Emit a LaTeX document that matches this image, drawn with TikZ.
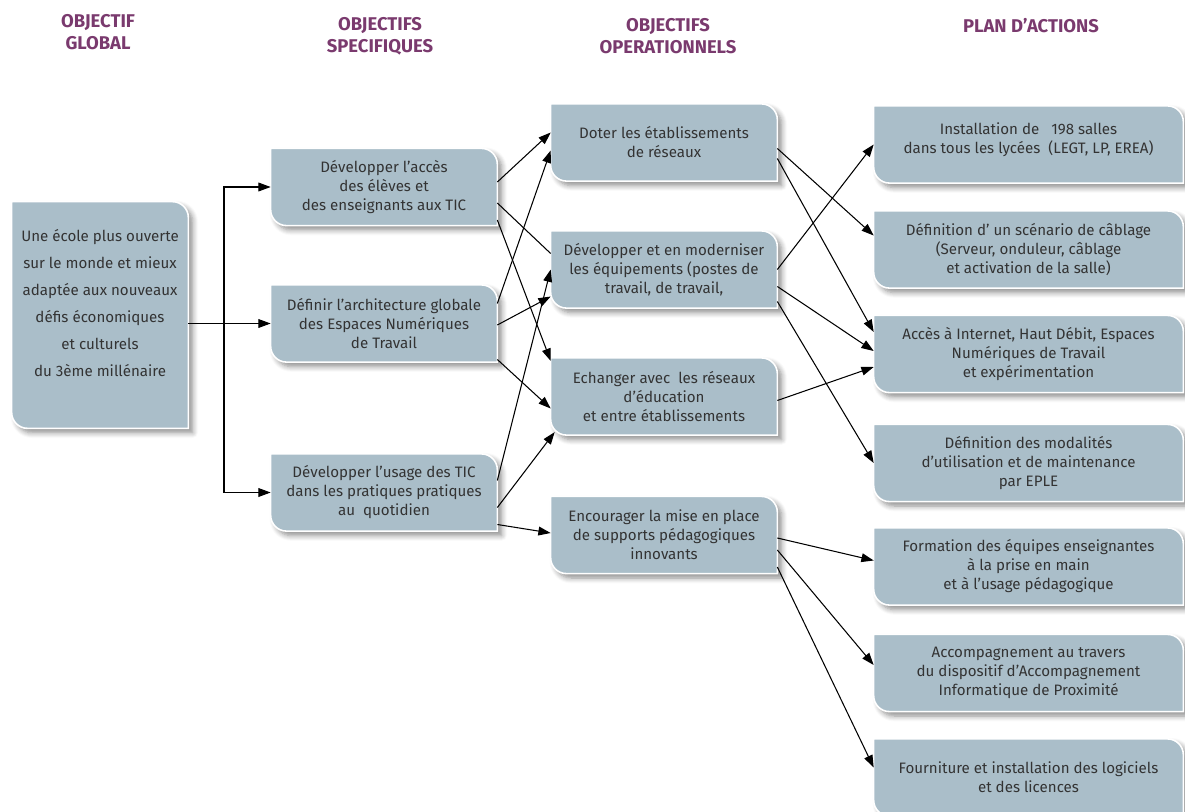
\documentclass[tikz,border=0pt]{standalone}
\usepackage{fontspec}
\setmainfont{Fira Sans}
\usepackage{tikz}
\usetikzlibrary{arrows.meta}
\usetikzlibrary{calc}
\usetikzlibrary{backgrounds}
\usetikzlibrary{shadows.blur}
\usepackage{xcolor}
\definecolor{bleu bloc}{RGB}{170,190,201}
\definecolor{violet titre}{RGB}{122,58,110}
\colorlet{texte bloc}{black!80}

\begin{document}
\begin{tikzpicture}[x=0.02cm, y=-0.02cm,
	bloc/.style={minimum width=4.52cm, minimum height=1.53cm, inner sep=0pt, align=center, text=texte bloc, font=\fontsize{8.6}{10.8}\selectfont},
	action/.style={bloc, minimum width=6.18cm},
	titre/.style={align=center, text=violet titre, font=\fontsize{10.5}{12.6}\selectfont\bfseries},
	fond/.style={fill=bleu bloc, draw=white, line width=0.9pt, blur shadow={shadow xshift=2.5pt, shadow yshift=-2.5pt, shadow blur steps=6, shadow blur radius=3pt, shadow opacity=45}},
	fleche/.style={-{Triangle[length=7pt,width=5pt]}, line width=0.6pt},
	trait/.style={line width=0.6pt}]
			\useasboundingbox (0,0) rectangle (1185,811);
			\node[titre] (tglob) at (98,32){OBJECTIF\\GLOBAL};
			\node[titre] (tspec) at (380,36){OBJECTIFS\\SPECIFIQUES};
			\node[titre] (top) at (668,36){OBJECTIFS\\OPERATIONNELS};
			\node[titre] (tact) at (1031,26){PLAN D'ACTIONS};
			\node[bloc, minimum width=3.52cm, minimum height=4.52cm, text depth=0.48cm, font=\fontsize{8.6}{15.3}\selectfont] (glob) at (100,315){Une école plus ouverte\\sur le monde et mieux\\adaptée aux nouveaux\\défis économiques\\et culturels\\du 3ème millénaire};
			\node[bloc] (spec1) at (384,187){Développer l’accès\\des élèves et\\des enseignants aux TIC};
			\node[bloc] (spec2) at (384,323.5){Définir l’architecture globale\\des Espaces Numériques\\de Travail};
			\node[bloc] (spec3) at (384,492.5){Développer l’usage des TIC\\dans les pratiques pratiques\\au \ quotidien};
			\node[bloc] (op1) at (664,142.5){Doter les établissements\\de réseaux};
			\node[bloc] (op2) at (664,269.5){Développer et en moderniser\\les équipements (postes de\\travail, de travail,};
			\node[bloc] (op3) at (664,396.5){Echanger avec \ les réseaux\\d’éducation\\et entre établissements};
			\node[bloc] (op4) at (664,535){Encourager la mise en place\\de supports pédagogiques\\innovants};
			\node[action, text depth=0.25cm] (act1) at (1028.5,144.5){Installation de \ \ 198 salles\\dans tous les lycées \ (LEGT, LP, EREA)};
			\node[action] (act2) at (1028.5,249.5){Définition d’ un scénario de câblage\\(Serveur, onduleur, câblage\\et activation de la salle)};
			\node[action] (act3) at (1028.5,354){Accès à Internet, Haut Débit, Espaces\\Numériques de Travail\\et expérimentation};
			\node[action] (act4) at (1028.5,463){Définition des modalités\\d’utilisation et de maintenance\\par EPLE};
			\node[action] (act5) at (1028.5,566.5){Formation des équipes enseignantes\\à la prise en main\\et à l’usage pédagogique};
			\node[action] (act6) at (1028.5,673){Accompagnement au travers\\du dispositif d’Accompagnement\\Informatique de Proximité};
			\node[action] (act7) at (1028.5,777.5){Fourniture et installation des logiciels\\et des licences};
			\begin{scope}[on background layer]
				\foreach \b in {glob,spec1,spec2,spec3,op1,op2,op3,op4,act1,act2,act3,act4,act5,act6,act7}
					\path[fond] (\b.north west) -- ([xshift=-9pt]\b.north east) arc[start angle=90, end angle=0, radius=9pt] -- (\b.south east) -- ([xshift=9pt]\b.south west) arc[start angle=270, end angle=180, radius=9pt] -- cycle;
			\end{scope}
			\coordinate (tronc) at (224,323.5);
			\draw[fleche] (glob.east |- spec2.west) -- (spec2.west);
			\draw[fleche] (tronc) |- (spec1.west);
			\draw[fleche] (tronc) |- (spec3.west);
			\draw[fleche] ($(spec1.east)+(0,-5)$) -- ($(op1.west)+(0,-10)$);
			\draw[trait] ($(spec1.east)+(0,16)$) -- ($(op2.west)+(0,-16)$);
			\draw[fleche] ($(spec1.east)+(0,33)$) -- ($(op3.north west)+(0,3)$);
			\draw[fleche] ($(spec2.east)+(0,-20)$) -- ($(op1.west)+(0,8)$);
			\draw[fleche] ($(spec2.east)+(0,1.5)$) -- ($(op2.west)+(0,27)$);
			\draw[fleche] ($(spec2.east)+(0,36)$) -- ($(op3.west)+(0,12)$);
			\draw[fleche] ($(spec3.east)+(0,-12)$) -- (op2.west);
			\draw[fleche] ($(spec3.east)+(0,15)$) -- ($(op3.south west)+(4,-3)$);
			\draw[fleche] ($(spec3.east)+(0,32)$) -- ($(op4.west)+(0,-2)$);
			\draw[fleche] ($(op1.east)+(0,6)$) -- ($(act2.west)+(0,-14)$);
			\draw[fleche] ($(op1.east)+(0,16)$) -- ($(act3.west)+(0,-22)$);
			\draw[fleche] (op2.east) -- (act1.west);
			\draw[fleche] ($(op2.east)+(0,17)$) -- ($(act3.west)+(0,-3)$);
			\draw[fleche] ($(op2.east)+(0,32)$) -- (act4.west);
			\draw[fleche] ($(op3.east)+(0,4)$) -- ($(act3.west)+(0,13)$);
			\draw[fleche] ($(op4.east)+(0,3)$) -- ($(act5.west)+(0,-6)$);
			\draw[fleche] ($(op4.east)+(0,15)$) -- ($(act6.west)+(0,-8)$);
			\draw[fleche] ($(op4.east)+(0,32)$) -- ($(act7.west)+(0,-10)$);
		\end{tikzpicture}
\end{document}
